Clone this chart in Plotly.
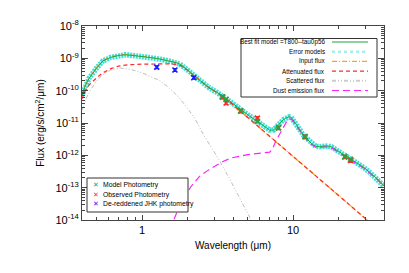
import plotly.graph_objects as go

# ---------------- data ----------------
best_wl = [0.40, 0.42, 0.445, 0.50, 0.55, 0.62, 0.70, 0.78, 0.90, 1.0, 1.15, 1.3, 1.5, 1.7, 1.78,
           2.0, 2.23, 2.5, 2.76, 3.1, 3.46, 4.0, 4.6, 5.2, 5.8, 6.5, 7.0, 7.4, 7.7, 8.2, 8.6, 9.0,
           9.4, 9.7, 10.1, 10.6, 11.2, 11.8, 12.5, 13.2, 14.1, 15.0, 16.0, 17.0, 18.0, 19.2, 20.5,
           22.6, 24.5, 26.7, 29.5, 32.6, 36.7, 40.0]
best_flux = [7.08e-11, 1.41e-10, 2.40e-10, 5.01e-10, 8.32e-10, 1.07e-9, 1.23e-9, 1.29e-9, 1.20e-9,
             1.15e-9, 1.05e-9, 9.55e-10, 8.32e-10, 7.24e-10, 6.61e-10, 4.37e-10, 2.75e-10, 1.82e-10,
             1.26e-10, 9.12e-11, 6.61e-11, 3.98e-11, 2.40e-11, 1.58e-11, 1.12e-11, 7.94e-12, 6.03e-12,
             6.03e-12, 7.08e-12, 1.00e-11, 1.26e-11, 1.45e-11, 1.55e-11, 1.51e-11, 1.20e-11, 8.51e-12,
             5.75e-12, 3.98e-12, 3.02e-12, 2.34e-12, 1.91e-12, 1.86e-12, 1.95e-12, 1.95e-12, 1.82e-12,
             1.51e-12, 1.20e-12, 8.91e-13, 7.24e-13, 5.75e-13, 4.17e-13, 2.82e-13, 1.74e-13, 1.12e-13]

input_wl = [0.40, 0.42, 0.445, 0.50, 0.55, 0.62, 0.70, 0.78, 0.90, 1.0, 1.3, 1.5, 1.7, 1.78, 2.0,
            2.23, 2.5, 2.76, 3.46, 4.6, 5.8, 7.0, 8.3, 10.0, 12.0, 15.0, 20.0, 25.0, 31.6, 40.0]
input_flux = [7.94e-11, 1.51e-10, 2.51e-10, 5.25e-10, 8.71e-10, 1.12e-9, 1.26e-9, 1.32e-9, 1.23e-9,
              1.17e-9, 9.77e-10, 8.51e-10, 7.41e-10, 6.76e-10, 4.37e-10, 2.75e-10, 1.82e-10,
              1.26e-10, 6.46e-11, 2.09e-11, 8.32e-12, 3.89e-12, 1.95e-12, 9.33e-13, 4.47e-13,
              1.82e-13, 5.75e-14, 2.34e-14, 9.12e-15, 3.55e-15]

atten_wl = [0.40, 0.42, 0.445, 0.50, 0.55, 0.62, 0.70, 0.80, 1.0, 1.3, 1.5, 1.7, 1.78, 2.0, 2.23,
            2.5, 2.76, 3.46, 4.6, 5.8, 7.0, 8.3, 10.0, 12.0, 15.0, 20.0, 25.0, 31.6, 40.0]
atten_flux = [5.62e-11, 1.00e-10, 1.48e-10, 2.51e-10, 3.55e-10, 4.79e-10, 5.75e-10, 6.31e-10,
              6.61e-10, 6.76e-10, 6.76e-10, 6.46e-10, 6.17e-10, 4.27e-10, 2.75e-10, 1.82e-10,
              1.26e-10, 6.46e-11, 2.09e-11, 8.32e-12, 3.89e-12, 1.95e-12, 9.33e-13, 4.47e-13,
              1.82e-13, 5.75e-14, 2.34e-14, 9.12e-15, 3.55e-15]

scat_wl = [0.40, 0.43, 0.46, 0.50, 0.55, 0.62, 0.72, 0.85, 1.0, 1.15, 1.3, 1.5, 1.75, 2.0, 2.23,
           2.6, 3.2, 3.9, 4.6, 5.3, 6.0]
scat_flux = [2.51e-11, 6.31e-11, 1.12e-10, 2.00e-10, 3.16e-10, 4.37e-10, 5.01e-10, 4.47e-10,
             3.55e-10, 2.75e-10, 2.09e-10, 1.26e-10, 6.31e-11, 2.82e-11, 1.41e-11, 3.72e-12,
             7.94e-13, 1.48e-13, 3.55e-14, 1.00e-14, 3.16e-15]

dust_wl = [1.55, 1.62, 1.80, 2.1, 2.4, 2.76, 3.4, 3.9, 5.0, 6.0, 7.0, 7.3, 7.7, 8.3, 9.0, 9.4, 9.7,
           10.1, 10.6, 11.2, 11.8, 12.5, 13.2, 14.1, 15.0, 16.0, 17.0, 18.0, 19.2, 20.5, 22.6,
           24.5, 26.7, 29.5, 32.6, 36.7, 40.0]
dust_flux = [5.01e-15, 1.00e-14, 3.31e-14, 1.05e-13, 2.24e-13, 3.55e-13, 6.31e-13, 8.32e-13,
             1.05e-12, 1.15e-12, 1.26e-12, 1.58e-12, 2.82e-12, 5.25e-12, 1.05e-11, 1.32e-11,
             1.32e-11, 1.07e-11, 7.94e-12, 5.37e-12, 3.72e-12, 2.82e-12, 2.19e-12, 1.78e-12,
             1.74e-12, 1.82e-12, 1.82e-12, 1.70e-12, 1.41e-12, 1.15e-12, 8.51e-13, 6.92e-13,
             5.50e-13, 3.98e-13, 2.69e-13, 1.66e-13, 1.07e-13]

phot_wl = [3.4, 3.6, 4.5, 5.8, 8.0, 12.0, 22.0, 24.0]
obs_flux = [6.31e-11, 4.17e-11, 2.34e-11, 1.41e-11, 7.08e-12, 3.80e-12, 8.91e-13, 6.92e-13]
model_flux = [6.46e-11, 5.37e-11, 2.40e-11, 1.12e-11, 7.08e-12, 3.80e-12, 9.12e-13, 7.59e-13]

jhk_wl = [1.25, 1.65, 2.2]
jhk_flux = [5.37e-10, 4.37e-10, 2.51e-10]

ytick_vals = [1e-8, 1e-9, 1e-10, 1e-11, 1e-12, 1e-13, 1e-14]
ytick_text = ["10<sup>-8</sup>", "10<sup>-9</sup>", "10<sup>-10</sup>", "10<sup>-11</sup>",
              "10<sup>-12</sup>", "10<sup>-13</sup>", "10<sup>-14</sup>"]
xtick_vals = [1, 10]
xtick_text = ["1", "10"]

legend_top = ["Best fit model =T800--tau0p56", "Error models", "Input flux",
              "Attenuated flux", "Scattered flux", "Dust emission flux"]
legend_bottom = ["Model Photometry", "Observed Photometry", "De-reddened JHK photometry"]

# ---------------- styles ----------------
C_GREEN = "#1fa83c"
C_CYAN = "rgba(40,220,215,0.9)"
C_ORANGE = "#f5a623"
C_RED = "#ff2a2a"
C_GREY = "#bdbdbd"
C_MAG = "#ff22ff"
C_BLUE = "#1a1aff"
FONT = "Liberation Sans, Arial, sans-serif"
D_RED = "4px,3px"
D_MAG = "7px,4px"
D_ORANGE = "5px,2px,1px,2px"
D_GREY = "4px,2px,1px,2px,1px,2px"

fig = go.Figure()
fig.add_trace(go.Scatter(x=best_wl, y=best_flux, mode="lines",
                         line=dict(color=C_CYAN, width=5.5, dash="2px,1px"), name=legend_top[1]))
fig.add_trace(go.Scatter(x=input_wl, y=input_flux, mode="lines",
                         line=dict(color=C_ORANGE, width=1.2, dash=D_ORANGE), name=legend_top[2]))
fig.add_trace(go.Scatter(x=scat_wl, y=scat_flux, mode="lines",
                         line=dict(color=C_GREY, width=1, dash=D_GREY), name=legend_top[4]))
fig.add_trace(go.Scatter(x=dust_wl, y=dust_flux, mode="lines",
                         line=dict(color=C_MAG, width=1.2, dash=D_MAG), name=legend_top[5]))
fig.add_trace(go.Scatter(x=atten_wl, y=atten_flux, mode="lines",
                         line=dict(color=C_RED, width=1.2, dash=D_RED), name=legend_top[3]))
fig.add_trace(go.Scatter(x=best_wl, y=best_flux, mode="lines",
                         line=dict(color=C_GREEN, width=1.0), name=legend_top[0]))
fig.add_trace(go.Scatter(x=phot_wl, y=obs_flux, mode="markers", name=legend_bottom[1],
                         marker=dict(symbol="x-thin", size=5, line=dict(color=C_RED, width=1.6)),
                         error_y=dict(type="percent", value=12, color=C_RED, thickness=1.2, width=2)))
fig.add_trace(go.Scatter(x=phot_wl, y=model_flux, mode="markers", name=legend_bottom[0],
                         marker=dict(symbol="x-thin", size=5, line=dict(color=C_GREEN, width=1.6))))
fig.add_trace(go.Scatter(x=jhk_wl, y=jhk_flux, mode="markers", name=legend_bottom[2],
                         marker=dict(symbol="x-thin", size=5, line=dict(color=C_BLUE, width=1.6)),
                         error_y=dict(type="percent", value=10, color=C_BLUE, thickness=1.2, width=2)))

# ---------------- manual legends ----------------
L, R, T, B = 82, 384, 26, 220
W, H = R - L, B - T
def px(x):
    return (x - L) / W
def py(y):
    return (B - y) / H

shapes = []
annotations = []
# top-right legend box
shapes.append(dict(type="rect", xref="paper", yref="paper", x0=px(241), x1=px(377),
                   y0=py(97), y1=py(38.5), line=dict(color="#333", width=1), fillcolor="white"))
samples = [dict(color=C_GREEN, width=1.2, dash="solid"),
           dict(color="#a8eeee", width=2.5, dash="dot"),
           dict(color=C_ORANGE, width=1.2, dash=D_ORANGE),
           dict(color=C_RED, width=1.2, dash=D_RED),
           dict(color="#cccccc", width=2, dash=D_GREY),
           dict(color=C_MAG, width=1.2, dash=D_MAG)]
for i, (txt, ln) in enumerate(zip(legend_top, samples)):
    yy = 42 + 9.7 * i
    annotations.append(dict(xref="paper", yref="paper", x=px(327), y=py(yy), text=txt,
                            showarrow=False, xanchor="right", yanchor="middle",
                            font=dict(size=6.3, family=FONT, color="black")))
    shapes.append(dict(type="line", xref="paper", yref="paper", x0=px(332), x1=px(368),
                       y0=py(yy), y1=py(yy), line=ln))

# bottom-left legend box
shapes.append(dict(type="rect", xref="paper", yref="paper", x0=px(87), x1=px(188),
                   y0=py(212), y1=py(178), line=dict(color="#333", width=1), fillcolor="white"))
for i, (txt, col) in enumerate(zip(legend_bottom, [C_GREEN, C_RED, C_BLUE])):
    yy = 185 + 9.5 * i
    annotations.append(dict(xref="paper", yref="paper", x=px(96), y=py(yy), text="\u2715",
                            showarrow=False, xanchor="center", yanchor="middle",
                            font=dict(size=7, family="DejaVu Sans", color=col)))
    annotations.append(dict(xref="paper", yref="paper", x=px(101), y=py(yy), text=txt,
                            showarrow=False, xanchor="left", yanchor="middle",
                            font=dict(size=6.8, family=FONT, color="black")))

x_minor = [0.4, 0.5, 0.6, 0.7, 0.8, 0.9, 2, 3, 4, 5, 6, 7, 8, 9, 20, 30, 40]
y_minor = [m * 10.0 ** e for e in range(-14, -8) for m in range(2, 10)]

fig.update_layout(
    width=409, height=273,
    margin=dict(l=L, r=409 - R, t=T, b=273 - B),
    paper_bgcolor="white", plot_bgcolor="white",
    showlegend=False,
    shapes=shapes, annotations=annotations,
    font=dict(family=FONT, color="black"),
)
fig.update_xaxes(type="log", range=[-0.398, 1.602], tickvals=xtick_vals, ticktext=xtick_text,
                 ticks="inside", ticklen=5, tickcolor="#444", showgrid=False, zeroline=False,
                 showline=True, linecolor="#444", linewidth=1, mirror="allticks",
                 tickfont=dict(size=11, family=FONT),
                 minor=dict(tickvals=x_minor, ticks="inside", ticklen=3, tickcolor="#444", showgrid=False),
                 title=dict(text="Wavelength (\u03bcm)", font=dict(size=10, family=FONT), standoff=6))
fig.update_yaxes(type="log", range=[-14, -8], tickvals=ytick_vals, ticktext=ytick_text,
                 ticks="inside", ticklen=6, tickcolor="#444", showgrid=False, zeroline=False,
                 showline=True, linecolor="#444", linewidth=1, mirror="allticks",
                 tickfont=dict(size=11, family=FONT),
                 minor=dict(tickvals=y_minor, ticks="inside", ticklen=3, tickcolor="#444", showgrid=False),
                 title=dict(text="Flux (erg/s/cm<sup>2</sup>/\u03bcm)", font=dict(size=10, family=FONT),
                            standoff=8))

fig.write_html("out.html", config={"displayModeBar": False},
               post_script="document.body.style.margin='0';")
